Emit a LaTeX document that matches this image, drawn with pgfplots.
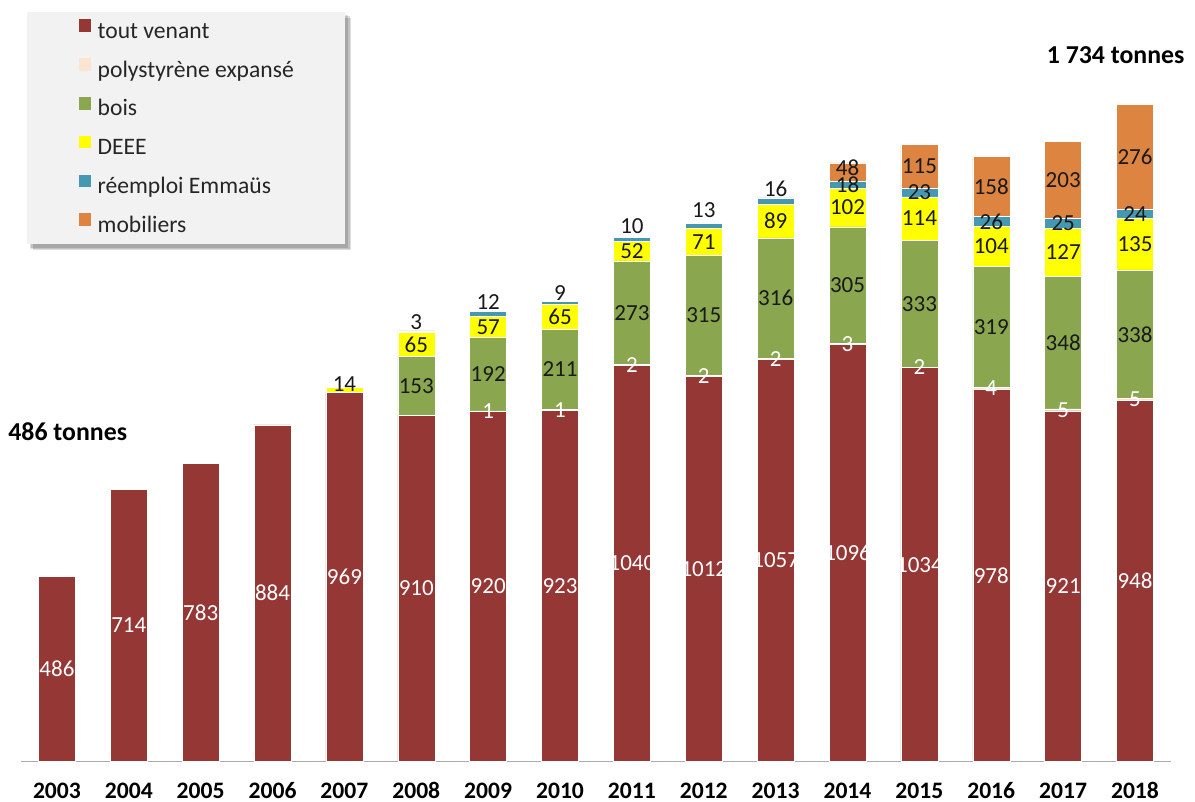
\documentclass[border=0pt]{standalone}
\usepackage{pgfplots}
\pgfplotsset{compat=1.18}
\usepackage{pgfplotstable}
\usepackage{fontspec}
\setmainfont{Carlito}
\usetikzlibrary{backgrounds}

\definecolor{tvred}{RGB}{149,55,53}
\definecolor{polyst}{RGB}{252,228,210}
\definecolor{boisgreen}{RGB}{138,166,79}
\definecolor{deeeyel}{RGB}{255,255,0}
\definecolor{reemblue}{RGB}{68,152,178}
\definecolor{mobor}{RGB}{221,132,65}
\definecolor{legfill}{RGB}{242,242,242}
\definecolor{axisgray}{RGB}{170,170,170}

% tonnages par flux
\pgfplotstableread{
year tv ps bois deee reem mob
2003 486 0 0 0 0 0
2004 714 0 0 0 0 0
2005 783 0 0 0 0 0
2006 884 0 0 0 0 0
2007 969 0 0 14 0 0
2008 910 0 153 65 3 0
2009 920 1 192 57 12 0
2010 923 1 211 65 9 0
2011 1040 2 273 52 10 0
2012 1012 2 315 71 13 0
2013 1057 2 316 89 16 0
2014 1096 3 305 102 18 48
2015 1034 2 333 114 23 115
2016 978 4 319 104 26 158
2017 921 5 348 127 25 203
2018 948 5 338 135 24 276
}\tonnages

% etiquettes blanches (tout venant, polystyrene) : milieu du segment
\pgfplotstableread{
year y lab
2003 243 486
2004 357 714
2005 391.5 783
2006 442 884
2007 484.5 969
2008 455 910
2009 460 920
2009 920.5 1
2010 461.5 923
2010 923.5 1
2011 520 1040
2011 1041 2
2012 506 1012
2012 1013 2
2013 528.5 1057
2013 1058 2
2014 548 1096
2014 1097.5 3
2015 517 1034
2015 1035 2
2016 489 978
2016 980 4
2017 460.5 921
2017 923.5 5
2018 474 948
2018 950.5 5
}\labblanc

% etiquettes noires
\pgfplotstableread{
year y lab
2007 991 14
2008 986.5 153
2008 1095.5 65
2008 1155 3
2009 1017 192
2009 1141.5 57
2009 1207 12
2010 1029.5 211
2010 1167.5 65
2010 1231 9
2011 1178.5 273
2011 1341 52
2011 1406 10
2012 1171.5 315
2012 1364.5 71
2012 1448 13
2013 1217 316
2013 1419.5 89
2013 1503 16
2014 1251.5 305
2014 1455 102
2014 1515 18
2014 1560 48
2015 1202.5 333
2015 1426 114
2015 1494.5 23
2015 1563.5 115
2016 1141.5 319
2016 1353 104
2016 1418 26
2016 1510 158
2017 1100 348
2017 1337.5 127
2017 1413.5 25
2017 1527.5 203
2018 1122 338
2018 1358.5 135
2018 1438 24
2018 1588 276
}\labnoir

\pgfplotsset{
  cadre/.style={
    scale only axis, width=575pt, height=380.75pt,
    at={(0pt,0pt)}, anchor=south west,
    xmin=2002.5, xmax=2018.5, ymin=0, ymax=2000,
  },
}

\begin{document}
\begin{tikzpicture}
\begin{axis}[
  cadre,
  ybar stacked,
  bar width=18.5pt,
  axis x line=bottom, axis y line=none,
  axis line style={-, draw=axisgray, line width=0.7pt},
  x axis line style={-},
  xtick={2003,...,2018},
  xticklabels={2003,2004,2005,2006,2007,2008,2009,2010,2011,2012,2013,2014,2015,2016,2017,2018},
  major tick length=0pt,
  xticklabel style={font=\fontsize{11.8}{14}\selectfont\bfseries, inner sep=0pt,
    anchor=north, text height=7.5pt, text depth=0pt, yshift=-10.6pt},
  ytick=\empty,
  every axis plot/.append style={draw=white, line width=0.3pt},
  legend image code/.code={\path[#1, draw=none] (0pt,0pt) rectangle (6.35pt,6.35pt);},
  legend cell align=left,
  legend style={name=leg, at={(0.0052,0.9842)}, anchor=north west, draw=none, fill=legfill,
    font=\fontsize{11.8}{14}\selectfont, text=black!85,
    inner xsep=25.6pt, inner ysep=3.35pt, row sep=7.25pt,
    nodes={inner sep=0pt, text height=9pt, text depth=2.65pt},
    /tikz/every odd column/.append style={column sep=3.2pt}},
  enlargelimits=false,
]
\addplot[fill=tvred] table[x=year, y=tv] {\tonnages};
\addplot[fill=polyst] table[x=year, y=ps] {\tonnages};
\addplot[fill=boisgreen] table[x=year, y=bois] {\tonnages};
\addplot[fill=deeeyel] table[x=year, y=deee] {\tonnages};
\addplot[fill=reemblue] table[x=year, y=reem] {\tonnages};
\addplot[fill=mobor] table[x=year, y=mob] {\tonnages};
\legend{tout venant, polystyrène expansé, bois, DEEE, réemploi Emmaüs, mobiliers}
\end{axis}

% ombre de la legende
\begin{pgfonlayer}{background}
\foreach \d in {1.4,2.1,2.8}{
  \fill[black, opacity=0.13] ([shift={(\d pt,-\d pt)}]leg.south west) rectangle ([shift={(\d pt,-\d pt)}]leg.north east);
}
\end{pgfonlayer}

\begin{axis}[
  cadre, hide axis, enlargelimits=false, clip=false,
  every node near coord/.append style={anchor=center, inner sep=0pt,
    font=\fontsize{11.5}{13}\selectfont},
]
\addplot[draw=none, mark=none, nodes near coords, point meta=explicit symbolic,
  every node near coord/.append style={text=white}]
  table[x=year, y=y, meta=lab] {\labblanc};
\addplot[draw=none, mark=none, nodes near coords, point meta=explicit symbolic,
  every node near coord/.append style={text=black!90}]
  table[x=year, y=y, meta=lab] {\labnoir};
\node[font=\fontsize{12.9}{15}\selectfont\bfseries] at (axis cs:2003.15,866) {486 tonnes};
\node[font=\fontsize{12.9}{15}\selectfont\bfseries] at (axis cs:2017.73,1855) {1~734 tonnes};
\end{axis}
\pgfresetboundingbox
\path[use as bounding box] (-10.5pt,-20.25pt) rectangle (587pt,380.75pt);
\end{tikzpicture}
\end{document}
